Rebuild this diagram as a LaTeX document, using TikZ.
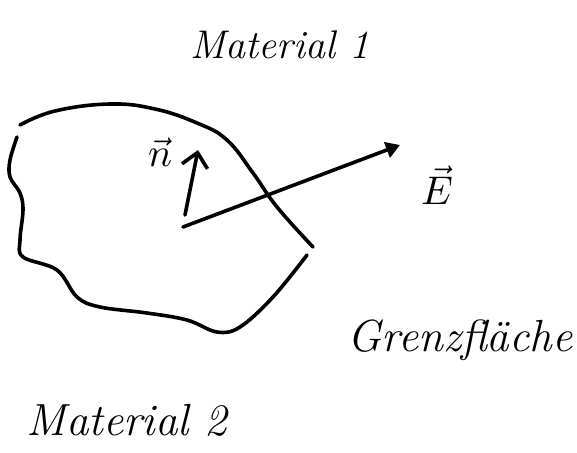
\documentclass[tikz,border=0pt]{standalone}
\usepackage{graphicx}
\usetikzlibrary{arrows.meta}
\begin{document}
\begin{tikzpicture}[x=1pt,y=-1pt,
  stroke/.style={line width=3.6pt,line cap=round,line join=round},
  hand/.style={font=\fontsize{40}{40}\selectfont\itshape,inner sep=0pt},
  handbig/.style={font=\fontsize{45}{45}\selectfont\itshape,inner sep=0pt},
  vlabel/.style={inner sep=0pt}]
\useasboundingbox[fill=white] (0,0) rectangle (577,452);
% boundary blob
\draw[stroke] plot[smooth,tension=0.7] coordinates {(20,125) (55,111) (110,104) (155,109) (197,123) (227,140) (253,173) (277,207) (313,247)};
\draw[stroke] plot[smooth,tension=0.6] coordinates {(307,255) (273,297) (240,327) (217,332) (187,320) (147,313) (100,307) (77,297) (57,270) (23,257) (20,240) (23,210) (20,193) (10,177) (10,160) (17,137)};
% vectors
\coordinate (o) at (183,227);
\coordinate (nbase) at (185,215);
\coordinate (ntip) at (198,150);
\coordinate (etip) at (400,145);
\draw[stroke,-{Straight Barb[length=14pt,width=26pt,line width=3.6pt]}] (nbase) -- (ntip);
\draw[stroke,-{Triangle[length=14pt,width=16pt]}] (o) -- (etip);
% labels
\node[vlabel] (nlab) at (160,152) {\scalebox{4}{$\vec{n}$}};
\node[vlabel] (elab) at (437,185) {\scalebox{4}{$\vec{E}$}};
\node[hand] (m1) at (280,45) {Material 1};
\node[handbig] (gf) at (460,340) {Grenzfläche};
\node[handbig] (m2) at (127,420) {Material 2};
\end{tikzpicture}
\end{document}
